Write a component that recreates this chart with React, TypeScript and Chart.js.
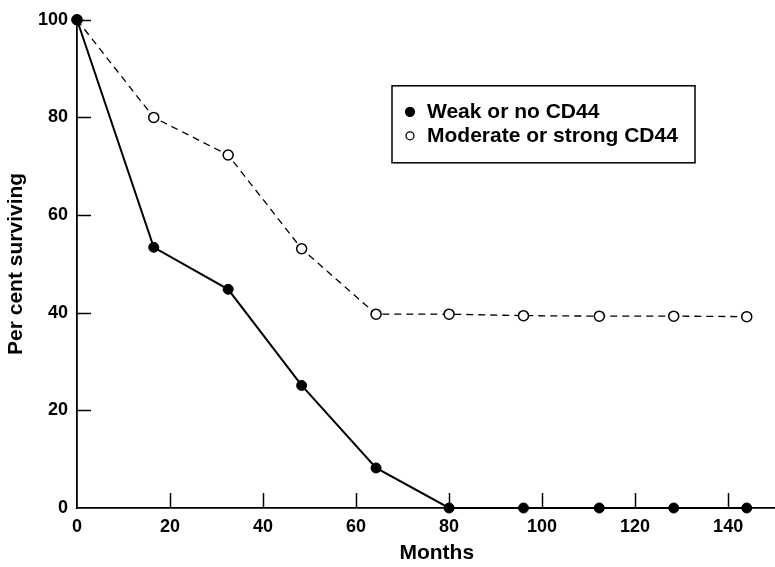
import { useEffect, useRef } from "react";
import { Chart, registerables } from "chart.js";

Chart.register(...registerables);

const months = [0, 16.5, 32.5, 48.3, 64.3, 80, 96, 112.3, 128.3, 144];
const weakSurvival = [100, 53.4, 44.8, 25.1, 8.2, 0, 0, 0, 0, 0];
const moderateSurvival = [100, 80, 72.3, 53.1, 39.7, 39.7, 39.4, 39.3, 39.3, 39.2];
const xTickValues = [0, 20, 40, 60, 80, 100, 120, 140];
const yTickValues = [0, 20, 40, 60, 80, 100];
const seriesLabels = ["Weak or no CD44", "Moderate or strong CD44"];
const xTitle = "Months";
const yTitle = "Per cent surviving";

const FONT = "'Liberation Sans', Arial, Helvetica, sans-serif";

const inwardTicks = {
  id: "inwardTicks",
  beforeDatasetsDraw(chart: any) {
    const { ctx, chartArea, scales } = chart;
    ctx.save();
    ctx.strokeStyle = "#000";
    ctx.lineWidth = 1.5;
    const xs = scales.x;
    xs.ticks.forEach((t: any) => {
      if (t.value === 0) return;
      const px = Math.round(xs.getPixelForValue(t.value)) + 0.5;
      ctx.beginPath();
      ctx.moveTo(px, chartArea.bottom);
      ctx.lineTo(px, chartArea.bottom - 15);
      ctx.stroke();
    });
    const ys = scales.y;
    ys.ticks.forEach((t: any) => {
      if (t.value === 0) return;
      const py = Math.round(ys.getPixelForValue(t.value)) + 0.5;
      ctx.beginPath();
      ctx.moveTo(chartArea.left, py);
      ctx.lineTo(chartArea.left + 14, py);
      ctx.stroke();
    });
    ctx.restore();
  },
};

const boxedLegend = {
  id: "boxedLegend",
  afterDraw(chart: any) {
    const { ctx, chartArea } = chart;
    const left = chartArea.left + 315;
    const top = chartArea.top + 66;
    const w = 303;
    const h = 77;
    ctx.save();
    ctx.strokeStyle = "#000";
    ctx.lineWidth = 1.5;
    ctx.fillStyle = "#fff";
    ctx.fillRect(left, top, w, h);
    ctx.strokeRect(left, top, w, h);
    ctx.font = `bold 21px ${FONT}`;
    ctx.textBaseline = "middle";
    ctx.textAlign = "left";
    chart.data.datasets.forEach((ds: any, i: number) => {
      const cy = top + 26 + i * 24;
      ctx.beginPath();
      ctx.arc(left + 18, cy, i === 0 ? 4.5 : 4, 0, Math.PI * 2);
      ctx.fillStyle = ds.pointBackgroundColor;
      ctx.fill();
      ctx.lineWidth = 1.3;
      ctx.strokeStyle = "#000";
      ctx.stroke();
      ctx.fillStyle = "#000";
      ctx.fillText(ds.label, left + 35, cy);
    });
    ctx.restore();
  },
};

export default function App() {
  const ref = useRef<HTMLCanvasElement | null>(null);

  useEffect(() => {
    document.body.style.margin = "0";
    if (!ref.current) return;
    Chart.defaults.font.family = FONT;
    Chart.defaults.color = "#000";
    const chart = new Chart(ref.current, {
      type: "line",
      data: {
        datasets: [
          {
            label: seriesLabels[0],
            data: months.map((m, i) => ({ x: m, y: weakSurvival[i] })),
            borderColor: "#000",
            borderWidth: 2,
            pointRadius: 5,
            pointBackgroundColor: "#000",
            pointBorderColor: "#000",
            pointBorderWidth: 1,
            tension: 0,
            clip: false as any,
          },
          {
            label: seriesLabels[1],
            data: months.map((m, i) => ({ x: m, y: moderateSurvival[i] })),
            borderColor: "#000",
            borderWidth: 1.3,
            borderDash: [7, 5],
            pointRadius: 5,
            pointBackgroundColor: "#fff",
            pointBorderColor: "#000",
            pointBorderWidth: 1.5,
            tension: 0,
            clip: false as any,
          },
        ],
      },
      options: {
        animation: false,
        responsive: false,
        devicePixelRatio: 1,
        layout: { padding: { top: 17, left: 0, right: 0, bottom: 0 } },
        plugins: {
          legend: { display: false },
          tooltip: { enabled: false },
        },
        scales: {
          x: {
            type: "linear",
            min: 0,
            max: 154.7,
            afterBuildTicks: (s: any) => {
              s.ticks = xTickValues.map((v) => ({ value: v }));
            },
            afterFit: (s: any) => {
              s.height = 59;
            },
            grid: { display: false, drawTicks: false },
            border: { display: true, color: "#000", width: 1.8 },
            ticks: {
              padding: 8,
              font: { size: 18, weight: "bold" },
              color: "#000",
              maxRotation: 0,
            },
            title: {
              display: true,
              text: xTitle,
              font: { size: 21, weight: "bold" },
              color: "#000",
              padding: { top: 0, bottom: 1 },
            },
          },
          y: {
            type: "linear",
            min: 0,
            max: 100,
            afterBuildTicks: (s: any) => {
              s.ticks = yTickValues.map((v) => ({ value: v }));
            },
            afterFit: (s: any) => {
              s.width = 77;
            },
            grid: { display: false, drawTicks: false },
            border: { display: true, color: "#000", width: 1.8 },
            ticks: {
              padding: 9,
              font: { size: 18, weight: "bold" },
              color: "#000",
            },
            title: {
              display: true,
              text: yTitle,
              font: { size: 21, weight: "bold" },
              color: "#000",
              padding: { top: 4, bottom: 0 },
            },
          },
        },
      },
      plugins: [inwardTicks, boxedLegend],
    });
    return () => chart.destroy();
  }, []);

  return (
    <div style={{ width: 775, height: 567, overflow: "hidden", background: "#fff" }}>
      <canvas ref={ref} width={803} height={567} style={{ display: "block" }} />
    </div>
  );
}
